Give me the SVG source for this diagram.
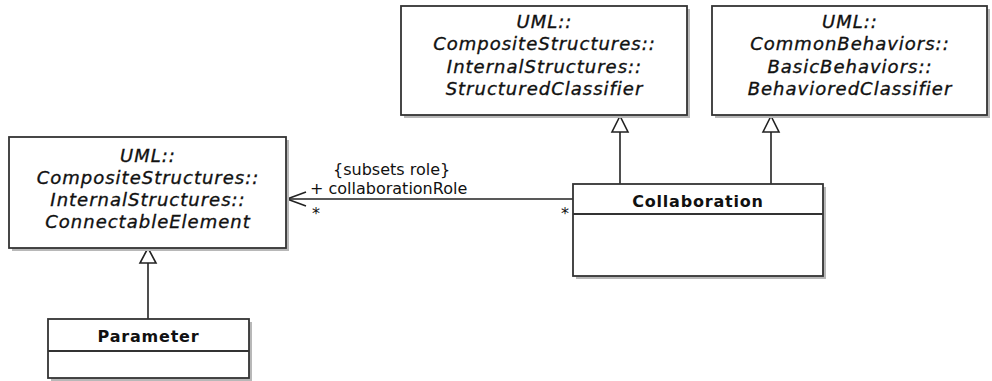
<svg xmlns="http://www.w3.org/2000/svg" width="992" height="381" viewBox="0 0 992 381">
<style>
.box{fill:#fff;stroke:#333;stroke-width:1.8}
.sh{fill:#b8b8b8}
.sep{stroke:#333;stroke-width:1.8}
.abs{font-family:"DejaVu Sans",sans-serif;font-style:italic;font-size:18px;letter-spacing:1px;fill:#111;stroke:#111;stroke-width:0.35;text-anchor:middle}
.cls{font-family:"DejaVu Sans",sans-serif;font-weight:bold;font-size:16px;letter-spacing:0.8px;fill:#111;text-anchor:middle}
.lbl{font-family:"DejaVu Sans",sans-serif;font-size:16px;fill:#111}
.ln{stroke:#222;stroke-width:1.6;fill:none}
.tri{fill:#fff;stroke:#222;stroke-width:1.6}
</style>
<rect width="992" height="381" fill="#fff"/>
<g id="connectors">
<line class="ln" x1="148" y1="263" x2="148" y2="319"/>
<polygon class="tri" points="148,248 140,263 156,263"/>
<line class="ln" x1="620" y1="132" x2="620" y2="184"/>
<polygon class="tri" points="620,116 612,132 628,132"/>
<line class="ln" x1="771" y1="132" x2="771" y2="184"/>
<polygon class="tri" points="771,116 763,132 779,132"/>
<line class="ln" x1="287" y1="199" x2="573" y2="199"/>
<polyline class="ln" points="306,192 287,199 306,206"/>
<text class="lbl" x="333" y="175">{subsets role}</text>
<text class="lbl" x="310" y="194">+ collaborationRole</text>
<text class="lbl" x="312" y="219" font-size="14">*</text>
<text class="lbl" x="561" y="219" font-size="14">*</text>
</g>
<g id="ConnectableElement">
<rect class="sh" x="12" y="140" width="277" height="111"/>
<rect class="box" x="9" y="137" width="277" height="111"/>
<text class="abs" x="148" y="161.5">UML::</text>
<text class="abs" x="148" y="183.8">CompositeStructures::</text>
<text class="abs" x="148" y="206.1">InternalStructures::</text>
<text class="abs" x="148" y="228.4">ConnectableElement</text>
</g>
<g id="StructuredClassifier">
<rect class="sh" x="404" y="9" width="286" height="109"/>
<rect class="box" x="401" y="6" width="286" height="109"/>
<text class="abs" x="544.5" y="28">UML::</text>
<text class="abs" x="544.5" y="50.3">CompositeStructures::</text>
<text class="abs" x="544.5" y="72.6">InternalStructures::</text>
<text class="abs" x="544.5" y="94.9">StructuredClassifier</text>
</g>
<g id="BehavioredClassifier">
<rect class="sh" x="715" y="9" width="275" height="109"/>
<rect class="box" x="712" y="6" width="275" height="109"/>
<text class="abs" x="850" y="28">UML::</text>
<text class="abs" x="850" y="50.3">CommonBehaviors::</text>
<text class="abs" x="850" y="72.6">BasicBehaviors::</text>
<text class="abs" x="850" y="94.9">BehavioredClassifier</text>
</g>
<g id="Collaboration">
<rect class="sh" x="576" y="187" width="250" height="92"/>
<rect class="box" x="573" y="184" width="250" height="92"/>
<line class="sep" x1="573" y1="214" x2="823" y2="214"/>
<text class="cls" x="698" y="207">Collaboration</text>
</g>
<g id="Parameter">
<rect class="sh" x="51" y="322" width="201" height="59"/>
<rect class="box" x="48" y="319" width="201" height="59"/>
<line class="sep" x1="48" y1="351" x2="249" y2="351"/>
<text class="cls" x="148.5" y="342">Parameter</text>
</g>
</svg>
